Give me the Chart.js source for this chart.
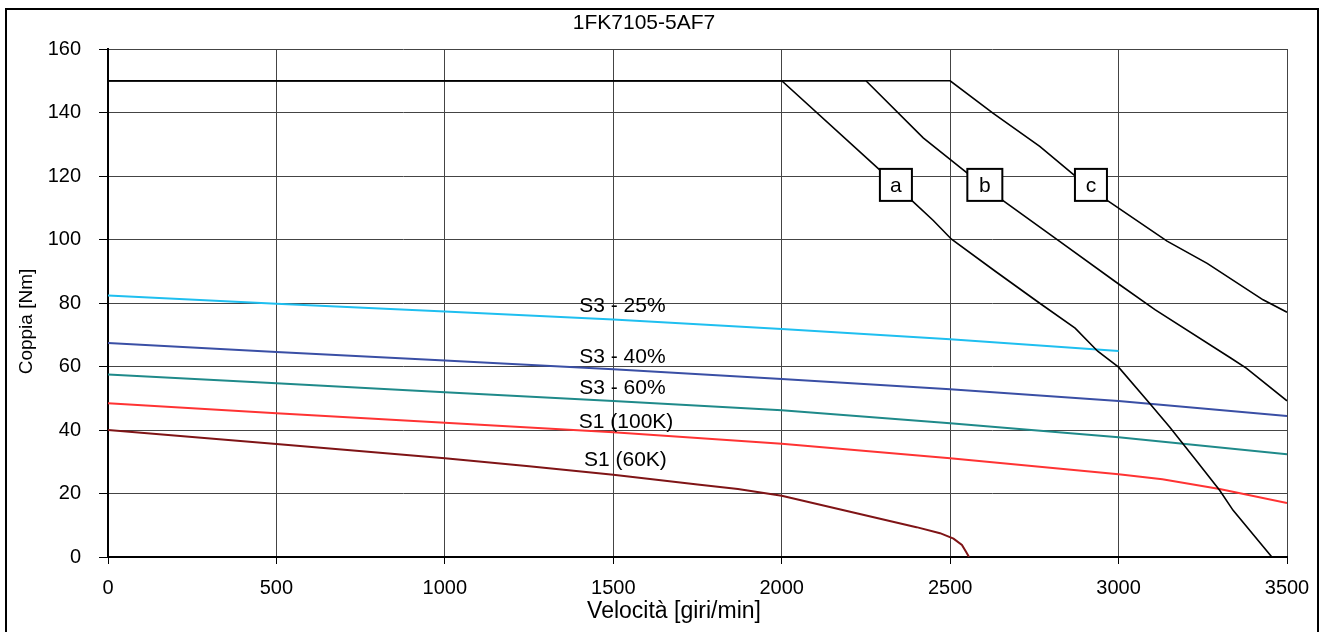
<!DOCTYPE html>
<html>
<head>
<meta charset="utf-8">
<script src="https://cdn.jsdelivr.net/npm/chart.js@4.4.1/dist/chart.umd.min.js"></script>
<style>
  html, body { margin: 0; padding: 0; background: #fff; }
</style>
</head>
<body>
<canvas id="torqueChart" width="1326" height="632"></canvas>
<script>
// texts
var chartTitle = '1FK7105-5AF7';
var xTitle = 'Velocità [giri/min]';
var yTitle = 'Coppia [Nm]';

// axis ranges / ticks
var xMin = 0, xMax = 3500, xStep = 500;
var yMin = 0, yMax = 160, yStep = 20;

// S3 / S1 curves (speed rpm, torque Nm)
var speedS3_25 = [0, 500, 1000, 1500, 2000, 2500, 3000];
var torqueS3_25 = [82.4, 79.8, 77.3, 74.8, 71.8, 68.6, 64.9];

var speedS3_40 = [0, 500, 1000, 1500, 2000, 2500, 3000, 3500];
var torqueS3_40 = [67.4, 64.6, 61.9, 59.1, 56.1, 52.8, 49.1, 44.4];

var speedS3_60 = [0, 500, 1000, 1500, 2000, 2500, 3000, 3500];
var torqueS3_60 = [57.5, 54.7, 51.9, 49.1, 46.2, 42.1, 37.7, 32.4];

var speedS1_100 = [0, 500, 1000, 1500, 2000, 2500, 3000, 3130, 3300, 3500];
var torqueS1_100 = [48.4, 45.3, 42.3, 39.3, 35.7, 31.1, 26.1, 24.5, 21.4, 17.0];

var speedS1_60 = [0, 500, 1000, 1250, 1500, 1750, 1870, 2000, 2200, 2400, 2470, 2510, 2535, 2548, 2556];
var torqueS1_60 = [40.0, 35.6, 31.1, 28.6, 25.9, 22.8, 21.4, 19.3, 14.3, 9.4, 7.5, 5.8, 3.8, 1.5, 0];

// voltage limit curves a, b, c
var speedA = [0, 2000, 2290, 2385, 2450, 2504, 2634, 2765, 2871, 2938, 3000, 3092, 3151, 3230, 3300, 3340, 3455];
var torqueA = [150, 150, 122, 112.4, 106, 100.1, 90, 80, 72.1, 64.8, 59.8, 48.4, 41, 30.5, 21, 14.7, 0];

var speedB = [0, 2250, 2420, 2550, 2654, 2824, 2996, 3108, 3334, 3379, 3500];
var torqueB = [150, 150, 132, 121, 112.5, 99.5, 86.3, 77.9, 62.6, 59.5, 49.2];

var speedC = [0, 2500, 2627, 2766, 2870, 2964, 3144, 3263, 3429, 3500];
var torqueC = [150, 150, 139.8, 129.3, 120.1, 112.5, 99.5, 92.5, 81, 77.1];

// curve names and where they sit (rpm, Nm)
var curveNames = ['S3 - 25%', 'S3 - 40%', 'S3 - 60%', 'S1 (100K)', 'S1 (60K)'];
var curveNameSpeed = [1527, 1527, 1527, 1538, 1536];
var curveNameTorque = [79.6, 63.4, 53.6, 43.1, 31.1];

// boxed letters on a, b, c
var boxNames = ['a', 'b', 'c'];
var boxSpeed = [2339, 2603, 2918];
var boxTorque = [117.2, 117.2, 117.2];

function toPoints(xs, ys) {
    return xs.map(function (x, i) { return { x: x, y: ys[i] }; });
}

var font = '"Liberation Sans", Arial, sans-serif';

var overlay = {
    id: 'overlay',
    beforeDraw: function (chart) {
        var ctx = chart.ctx;
        ctx.save();
        ctx.fillStyle = '#fff';
        ctx.fillRect(0, 0, chart.width, chart.height);
        ctx.restore();
    },
    afterDatasetsDraw: function (chart) {
        var ctx = chart.ctx;
        var xs = chart.scales.x, ys = chart.scales.y;
        ctx.save();
        ctx.fillStyle = '#000';
        ctx.font = '21px ' + font;
        ctx.textAlign = 'center';
        ctx.textBaseline = 'alphabetic';
        curveNames.forEach(function (name, i) {
            ctx.fillText(name, xs.getPixelForValue(curveNameSpeed[i]), ys.getPixelForValue(curveNameTorque[i]) + 7.5);
        });

        // letter boxes
        boxNames.forEach(function (name, i) {
            var cx = xs.getPixelForValue(boxSpeed[i]);
            var cy = ys.getPixelForValue(boxTorque[i]);
            var w = name === 'b' ? 35 : 32, h = 32;
            ctx.fillStyle = '#fff';
            ctx.fillRect(cx - w / 2, cy - h / 2, w, h);
            ctx.strokeStyle = '#000';
            ctx.lineWidth = 2;
            ctx.strokeRect(cx - w / 2, cy - h / 2, w, h);
            ctx.fillStyle = '#000';
            ctx.fillText(name, cx, cy + 7);
        });
        ctx.restore();
    },
    afterDraw: function (chart) {
        var ctx = chart.ctx;
        ctx.save();
        // outer frame
        ctx.strokeStyle = '#000';
        ctx.lineWidth = 2;
        ctx.strokeRect(6, 9, 1312, 660);

        ctx.fillStyle = '#000';
        ctx.textAlign = 'center';
        ctx.textBaseline = 'alphabetic';
        ctx.font = '21px ' + font;
        ctx.fillText(chartTitle, 644, 29.2);

        ctx.font = '23px ' + font;
        ctx.fillText(xTitle, 674, 617.5);

        ctx.translate(27, 321.5);
        ctx.rotate(-Math.PI / 2);
        ctx.font = '19px ' + font;
        ctx.textBaseline = 'middle';
        ctx.fillText(yTitle, 0, 0);
        ctx.restore();
    }
};

var ctx = document.getElementById('torqueChart').getContext('2d');

var chart = new Chart(ctx, {
    type: 'line',
    data: {
        datasets: [
            { label: 'a', data: toPoints(speedA, torqueA), borderColor: '#000', borderWidth: 1.6 },
            { label: 'b', data: toPoints(speedB, torqueB), borderColor: '#000', borderWidth: 1.6 },
            { label: 'c', data: toPoints(speedC, torqueC), borderColor: '#000', borderWidth: 1.6 },
            { label: 'S3 - 25%', data: toPoints(speedS3_25, torqueS3_25), borderColor: '#1fbff0', borderWidth: 2 },
            { label: 'S3 - 40%', data: toPoints(speedS3_40, torqueS3_40), borderColor: '#3a4fa5', borderWidth: 2 },
            { label: 'S3 - 60%', data: toPoints(speedS3_60, torqueS3_60), borderColor: '#1f8a8a', borderWidth: 2 },
            { label: 'S1 (100K)', data: toPoints(speedS1_100, torqueS1_100), borderColor: '#ff3333', borderWidth: 2 },
            { label: 'S1 (60K)', data: toPoints(speedS1_60, torqueS1_60), borderColor: '#7f1416', borderWidth: 2 }
        ]
    },
    options: {
        responsive: false,
        animation: false,
        events: [],
        elements: {
            point: { radius: 0 },
            line: { tension: 0, fill: false }
        },
        layout: {
            padding: { top: 49, right: 39, left: 0, bottom: 0 }
        },
        scales: {
            x: {
                type: 'linear',
                min: xMin,
                max: xMax,
                afterFit: function (s) { s.height = 75; },
                ticks: {
                    stepSize: xStep,
                    padding: 12,
                    color: '#000',
                    font: { family: font, size: 20 },
                    maxRotation: 0,
                    callback: function (v) { return String(v); }
                },
                grid: { color: '#444', lineWidth: 1, tickLength: 7, tickColor: '#000' },
                border: { color: '#000', width: 2 }
            },
            y: {
                min: yMin,
                max: yMax,
                afterFit: function (s) { s.width = 108; },
                ticks: {
                    stepSize: yStep,
                    padding: 18,
                    color: '#000',
                    font: { family: font, size: 20 }
                },
                grid: { color: '#444', lineWidth: 1, tickLength: 9, tickColor: '#000' },
                border: { color: '#000', width: 2 }
            }
        },
        plugins: {
            legend: { display: false },
            tooltip: { enabled: false },
            title: { display: false }
        }
    },
    plugins: [overlay]
});
</script>
</body>
</html>
